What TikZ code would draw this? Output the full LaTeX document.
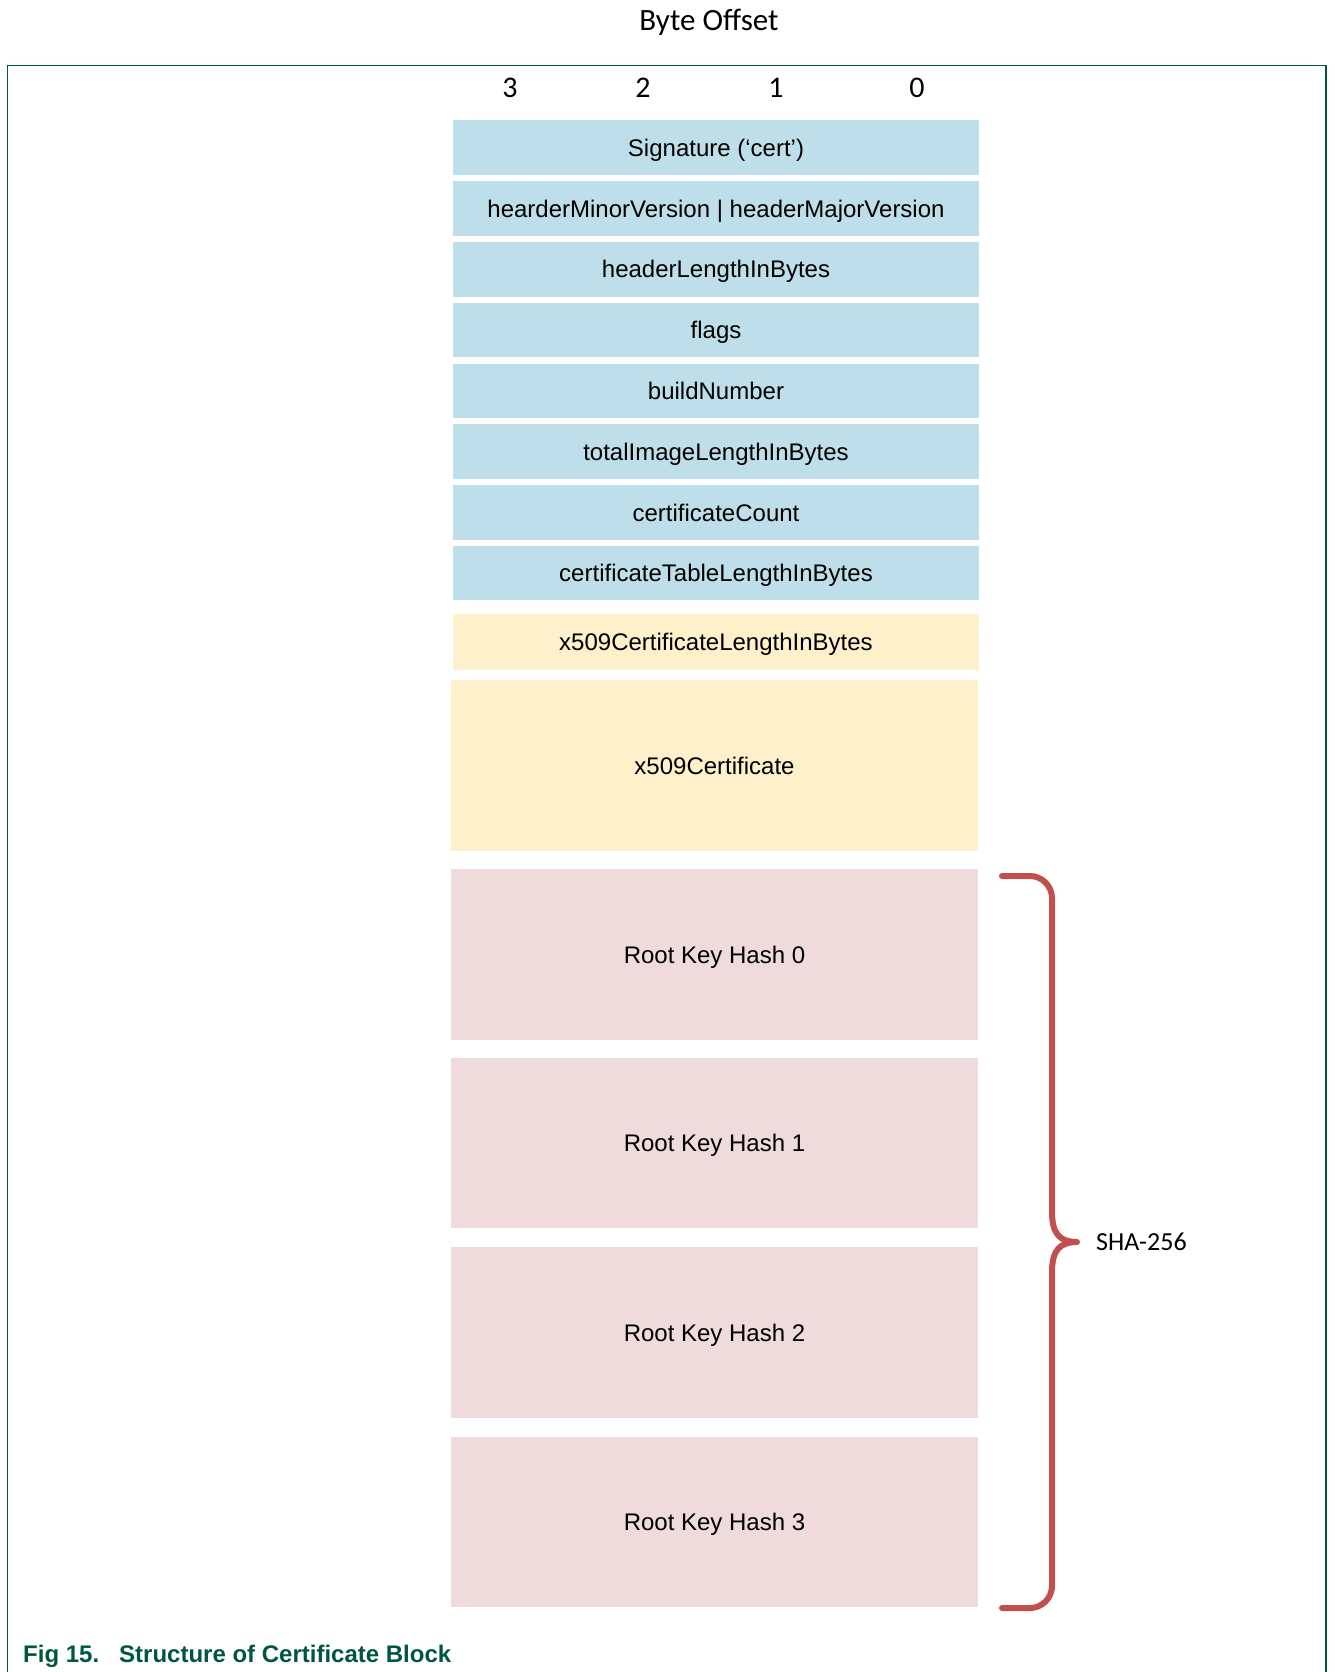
\documentclass[tikz,border=0pt]{standalone}
\usepackage{fontspec}
\setmainfont{Liberation Sans}
\newfontfamily\calib{Carlito}
\definecolor{hdrblue}{HTML}{BEDFEA}
\definecolor{certyel}{HTML}{FDF0CA}
\definecolor{hashpink}{HTML}{EFDBDB}
\definecolor{bracered}{HTML}{C0504D}
\definecolor{nxpgreen}{HTML}{00573F}
\tikzset{
  field/.style={rectangle, inner sep=0pt, outer sep=0pt, text=black,
    font=\fontsize{24}{28}\selectfont, text depth=0pt},
  bluefield/.style={field, fill=hdrblue, minimum width=526pt, minimum height=54.5pt},
  yelfield/.style={field, fill=certyel},
  pinkfield/.style={field, fill=hashpink, minimum width=527pt, minimum height=170.6pt},
  digit/.style={font=\calib\fontsize{30}{34}\selectfont, inner sep=0pt},
  frameline/.style={draw=nxpgreen, line width=1.2pt},
  bracepath/.style={draw=bracered, line width=6pt, line cap=round, line join=round}
}
\begin{document}
\begin{tikzpicture}[x=1pt,y=-1pt]
\useasboundingbox (0,0) rectangle (1334,1672);
% frame
\draw[frameline] (7.5,1672) -- (7.5,65.5) -- (1326,65.5) -- (1326,1672);
% titles
\node[font=\calib\fontsize{31}{36}\selectfont, inner sep=0pt] (title) at (709,22) {Byte Offset};
\node[digit] (d3) at (510,88) {3};
\node[digit] (d2) at (643,88) {2};
\node[digit] (d1) at (776,88) {1};
\node[digit] (d0) at (917,88) {0};
% header fields
\node[bluefield] (sig)  at (716,147.7) {Signature (‘cert’)};
\node[bluefield] (ver)  at (716,208.5) {hearderMinorVersion | headerMajorVersion};
\node[bluefield] (hlen) at (716,269.3) {headerLengthInBytes};
\node[bluefield] (flg)  at (716,330.0) {flags};
\node[bluefield] (bld)  at (716,390.8) {buildNumber};
\node[bluefield] (tot)  at (716,451.6) {totalImageLengthInBytes};
\node[bluefield] (cnt)  at (716,512.4) {certificateCount};
\node[bluefield] (ctl)  at (716,573.2) {certificateTableLengthInBytes};
% certificate
\node[yelfield, minimum width=526pt, minimum height=55.4pt] (xlen) at (716,641.9) {x509CertificateLengthInBytes};
\node[yelfield, minimum width=527pt, minimum height=170.6pt] (xcert) at (714.5,765.6) {x509Certificate};
% root key hashes
\node[pinkfield] (rk0) at (714.5,954.3) {Root Key Hash 0};
\node[pinkfield] (rk1) at (714.5,1143.1) {Root Key Hash 1};
\node[pinkfield] (rk2) at (714.5,1332.3) {Root Key Hash 2};
\node[pinkfield] (rk3) at (714.5,1522.1) {Root Key Hash 3};
% brace
\coordinate (btop) at (1002,876);
\coordinate (bbot) at (1002,1608);
\coordinate (btip) at (1077,1242);
\draw[bracepath] (btop) -- (1030,876) .. controls (1042,876) and (1052,886) .. (1052,898)
  -- (1052,1212) .. controls (1052,1234) and (1060,1242) .. (btip)
  .. controls (1060,1242) and (1052,1250) .. (1052,1272)
  -- (1052,1586) .. controls (1052,1598) and (1042,1608) .. (1030,1608) -- (bbot);
\node[font=\calib\fontsize{26}{30}\selectfont, anchor=west, inner sep=0pt] (sha) at (1096,1242) {SHA-256};
% caption
\node[anchor=base west, inner sep=0pt, text=nxpgreen, font=\bfseries\fontsize{24}{28}\selectfont] (cap) at (23,1662) {Fig 15.\hspace{20pt}Structure of Certificate Block};
\end{tikzpicture}
\end{document}
